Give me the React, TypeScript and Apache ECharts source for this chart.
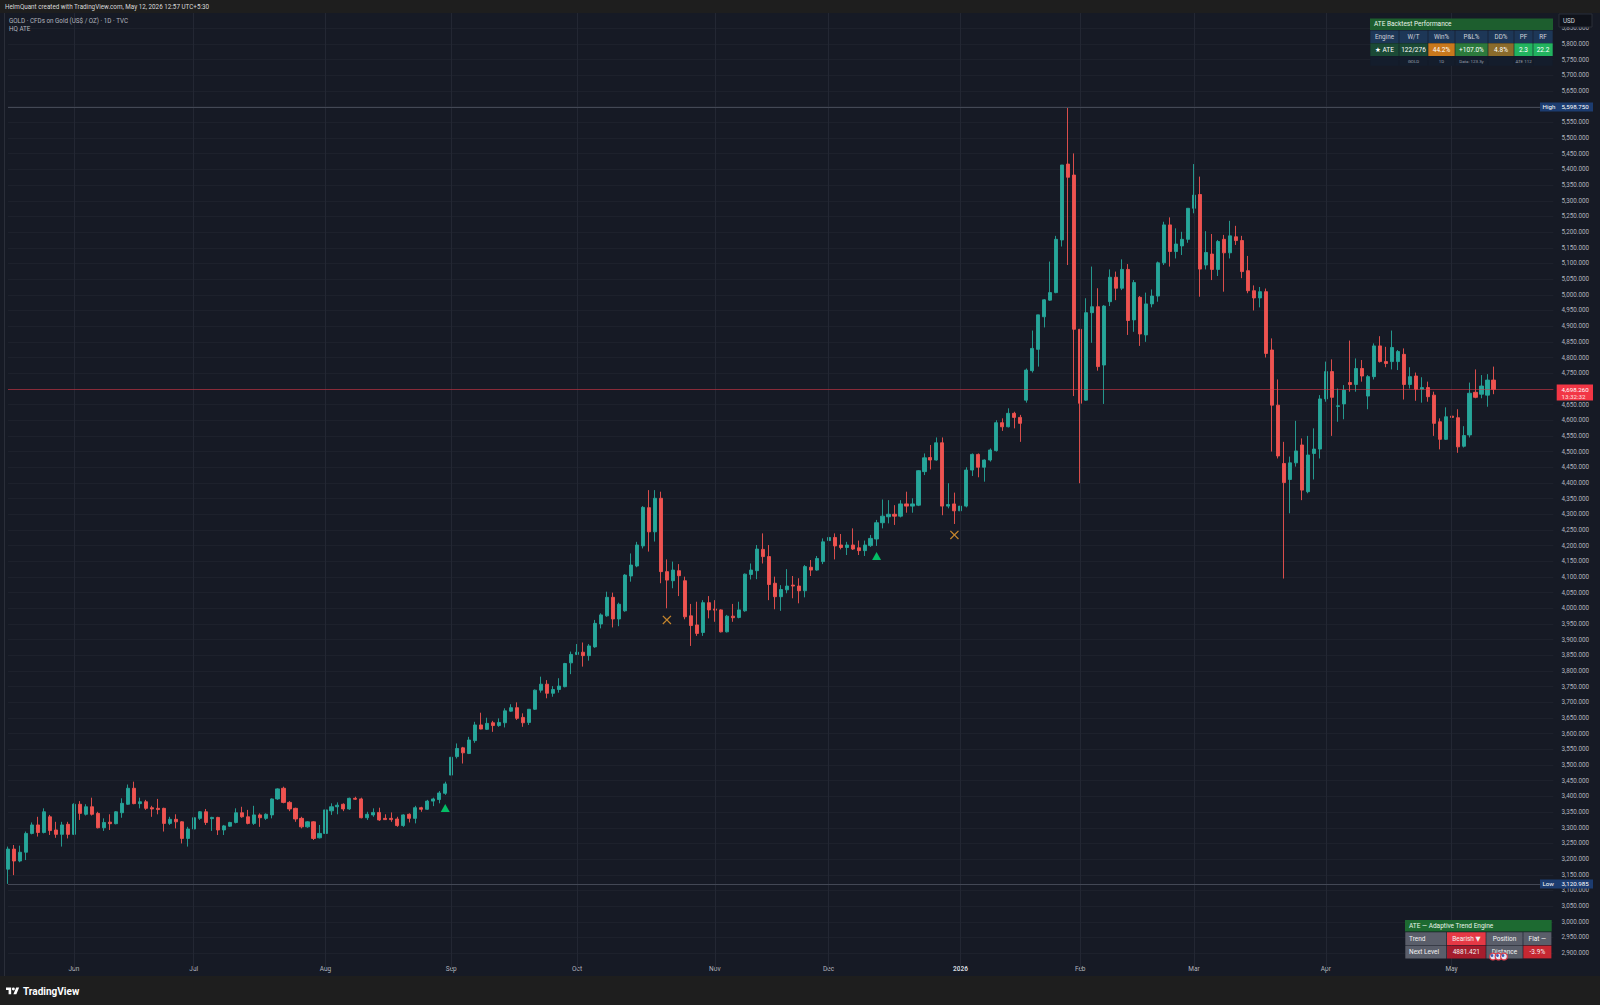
import React, { useEffect, useRef } from "react";
import * as echarts from "echarts";

const FONT = "Roboto, 'Noto Sans', 'DejaVu Sans', sans-serif";

// ---------- categories ----------
const HOLIDAYS = [
  "2025-05-26", "2025-06-19", "2025-07-04", "2025-09-01", "2025-11-27",
  "2025-12-25", "2026-01-01", "2026-01-19", "2026-02-16", "2026-04-03",
];
const FUTURE_BARS = 10;
const MONTH_ABBR = ["Jan", "Feb", "Mar", "Apr", "May", "Jun", "Jul", "Aug", "Sep", "Oct", "Nov", "Dec"];

// ---------- series values (daily OHLC, TVC:GOLD) ----------
const opens = [
  3168, 3232, 3194, 3222, 3282, 3309, 3285, 3335, 3293, 3279,
  3311, 3279, 3375, 3343, 3367, 3346, 3300, 3318, 3313, 3348,
  3375, 3426, 3377, 3383, 3364, 3362, 3362, 3314, 3327, 3319,
  3266, 3296, 3330, 3351, 3329, 3333, 3293, 3305, 3317, 3348,
  3335, 3314, 3341, 3330, 3341, 3392, 3426, 3381, 3362, 3330,
  3303, 3319, 3268, 3282, 3354, 3367, 3375, 3360, 3394, 3392,
  3332, 3341, 3349, 3330, 3330, 3328, 3307, 3343, 3330, 3364,
  3359, 3385, 3390, 3410, 3468, 3527, 3555, 3537, 3578, 3628,
  3614, 3635, 3626, 3635, 3672, 3683, 3652, 3636, 3678, 3739,
  3758, 3729, 3741, 3750, 3826, 3853, 3860, 3849, 3877, 3950,
  3976, 4035, 3966, 3992, 4103, 4135, 4199, 4321, 4244, 4351,
  4117, 4088, 4120, 4088, 3976, 3947, 3923, 4018, 3998, 3995,
  3925, 3975, 3971, 3992, 4108, 4120, 4188, 4165, 4080, 4037,
  4059, 4074, 4071, 4056, 4131, 4122, 4149, 4216, 4226, 4202,
  4194, 4202, 4193, 4184, 4200, 4221, 4273, 4292, 4300, 4294,
  4333, 4326, 4329, 4436, 4481, 4473, 4528, 4326, 4333, 4311,
  4326, 4441, 4491, 4450, 4473, 4503, 4592, 4579, 4622, 4609,
  4664, 4758, 4826, 4930, 4983, 5007, 5175, 5417, 5382, 4890,
  4664, 4943, 4962, 4776, 4978, 5056, 5021, 5081, 4920, 4992,
  4872, 4971, 4996, 5102, 5223, 5138, 5156, 5177, 5276, 5320,
  5095, 5130, 5081, 5177, 5134, 5185, 5173, 5077, 5013, 4990,
  5010, 4824, 4648, 4462, 4411, 4464, 4521, 4372, 4494, 4508,
  4668, 4755, 4644, 4652, 4720, 4714, 4765, 4677, 4739, 4837,
  4787, 4787, 4787, 4810, 4714, 4741, 4699, 4704, 4680, 4595,
  4539, 4613, 4608, 4517, 4553, 4689, 4683, 4680, 4728,
];
const closes = [
  3232, 3194, 3222, 3282, 3309, 3285, 3351, 3291, 3279, 3309,
  3279, 3375, 3346, 3367, 3343, 3300, 3317, 3313, 3351, 3378,
  3426, 3377, 3383, 3362, 3360, 3358, 3314, 3327, 3319, 3266,
  3296, 3332, 3351, 3317, 3333, 3293, 3306, 3317, 3348, 3335,
  3314, 3341, 3332, 3343, 3392, 3424, 3381, 3360, 3328, 3303,
  3319, 3266, 3282, 3357, 3367, 3372, 3360, 3394, 3391, 3332,
  3343, 3349, 3325, 3326, 3326, 3307, 3341, 3330, 3364, 3359,
  3385, 3392, 3411, 3440, 3525, 3553, 3539, 3580, 3628, 3615,
  3633, 3626, 3636, 3673, 3683, 3649, 3635, 3678, 3739, 3758,
  3729, 3741, 3752, 3824, 3853, 3860, 3849, 3880, 3952, 3979,
  4035, 3966, 4013, 4106, 4138, 4202, 4322, 4244, 4351, 4117,
  4090, 4122, 4104, 3973, 3945, 3920, 4018, 3995, 3994, 3925,
  3975, 3970, 3995, 4109, 4122, 4189, 4165, 4076, 4037, 4060,
  4071, 4071, 4056, 4133, 4122, 4159, 4212, 4226, 4199, 4194,
  4202, 4189, 4184, 4202, 4223, 4273, 4294, 4300, 4294, 4333,
  4326, 4333, 4439, 4480, 4473, 4528, 4326, 4331, 4311, 4326,
  4441, 4491, 4450, 4473, 4505, 4592, 4579, 4622, 4609, 4590,
  4760, 4829, 4936, 4984, 5007, 5177, 5414, 5375, 4890, 4654,
  4943, 4962, 4771, 4964, 5056, 5021, 5081, 4918, 5039, 4875,
  4971, 4996, 5102, 5223, 5138, 5162, 5177, 5276, 5318, 5082,
  5135, 5081, 5170, 5134, 5188, 5173, 5074, 5013, 4990, 5010,
  4813, 4648, 4486, 4401, 4464, 4502, 4377, 4489, 4508, 4668,
  4755, 4673, 4646, 4696, 4714, 4765, 4741, 4739, 4837, 4787,
  4781, 4832, 4819, 4714, 4739, 4699, 4704, 4675, 4590, 4539,
  4611, 4609, 4515, 4551, 4686, 4673, 4709, 4728, 4698.26,
];
const lows = [
  3120.985, 3149, 3190, 3197, 3279, 3272, 3282, 3277, 3268, 3240,
  3266, 3277, 3325, 3339, 3339, 3298, 3290, 3293, 3311, 3332,
  3373, 3375, 3362, 3357, 3335, 3343, 3288, 3309, 3298, 3250,
  3240, 3293, 3325, 3309, 3290, 3277, 3277, 3303, 3314, 3332,
  3311, 3309, 3303, 3325, 3330, 3389, 3378, 3353, 3319, 3298,
  3300, 3261, 3266, 3275, 3341, 3343, 3353, 3357, 3389, 3330,
  3325, 3335, 3322, 3325, 3319, 3303, 3303, 3317, 3314, 3351,
  3357, 3369, 3378, 3405, 3463, 3521, 3505, 3535, 3571, 3614,
  3612, 3606, 3622, 3620, 3670, 3644, 3622, 3628, 3676, 3731,
  3713, 3718, 3731, 3748, 3790, 3851, 3814, 3833, 3874, 3936,
  3973, 3939, 3943, 3989, 4085, 4131, 4191, 4181, 4213, 4080,
  4000, 4064, 4039, 3965, 3880, 3912, 3912, 3968, 3957, 3923,
  3923, 3957, 3968, 3989, 4092, 4093, 4143, 4026, 3997, 3992,
  4048, 4032, 4016, 4035, 4103, 4120, 4141, 4199, 4156, 4188,
  4170, 4186, 4170, 4167, 4196, 4199, 4255, 4271, 4266, 4290,
  4305, 4305, 4326, 4425, 4443, 4471, 4297, 4319, 4269, 4305,
  4322, 4422, 4418, 4404, 4468, 4500, 4566, 4577, 4574, 4531,
  4656, 4752, 4771, 4896, 4981, 5005, 5154, 5095, 4677, 4399,
  4662, 4847, 4758, 4652, 4964, 4983, 5015, 4872, 4882, 4837,
  4850, 4960, 4978, 5095, 5090, 5116, 5127, 5166, 5260, 4994,
  5081, 5047, 5060, 5010, 5116, 5159, 5053, 5005, 4950, 4960,
  4800, 4500, 4478, 4095, 4303, 4452, 4345, 4367, 4411, 4478,
  4659, 4550, 4595, 4603, 4691, 4691, 4723, 4635, 4730, 4784,
  4769, 4762, 4760, 4666, 4701, 4662, 4656, 4659, 4550, 4507,
  4537, 4558, 4496, 4513, 4545, 4670, 4670, 4643, 4683,
];
const highs = [
  3240, 3245, 3243, 3288, 3317, 3335, 3362, 3341, 3319, 3319,
  3319, 3378, 3385, 3375, 3396, 3351, 3330, 3343, 3353, 3394,
  3438, 3447, 3396, 3389, 3370, 3392, 3364, 3335, 3343, 3321,
  3303, 3335, 3353, 3360, 3335, 3335, 3309, 3319, 3362, 3367,
  3357, 3370, 3346, 3346, 3394, 3426, 3431, 3385, 3364, 3335,
  3321, 3321, 3309, 3357, 3378, 3381, 3378, 3396, 3399, 3396,
  3351, 3362, 3364, 3343, 3349, 3335, 3343, 3346, 3370, 3367,
  3389, 3396, 3417, 3447, 3532, 3569, 3558, 3590, 3638, 3667,
  3651, 3641, 3649, 3681, 3694, 3700, 3665, 3678, 3741, 3782,
  3771, 3752, 3777, 3826, 3862, 3886, 3891, 3886, 3963, 3984,
  4053, 4050, 4018, 4109, 4175, 4212, 4326, 4377, 4377, 4372,
  4156, 4149, 4141, 4101, 4014, 4021, 4026, 4039, 4026, 3997,
  3979, 4014, 4021, 4111, 4143, 4202, 4239, 4202, 4101, 4074,
  4125, 4103, 4096, 4138, 4154, 4167, 4223, 4260, 4239, 4237,
  4212, 4255, 4216, 4216, 4234, 4282, 4347, 4345, 4329, 4345,
  4372, 4351, 4441, 4494, 4521, 4545, 4545, 4399, 4369, 4399,
  4450, 4494, 4494, 4475, 4510, 4600, 4606, 4638, 4627, 4617,
  4765, 4886, 4936, 4986, 5106, 5188, 5414, 5598.75, 5451, 4890,
  4989, 5090, 5021, 4967, 5081, 5074, 5113, 5098, 5047, 4996,
  5007, 5017, 5106, 5233, 5247, 5212, 5201, 5276, 5417, 5377,
  5203, 5194, 5175, 5191, 5236, 5220, 5188, 5124, 5030, 5025,
  5020, 4861, 4730, 4531, 4484, 4598, 4542, 4550, 4574, 4680,
  4787, 4794, 4701, 4712, 4854, 4797, 4792, 4744, 4845, 4868,
  4834, 4886, 4824, 4829, 4769, 4752, 4737, 4723, 4691, 4606,
  4641, 4656, 4635, 4581, 4720, 4762, 4744, 4747, 4771,
];

// signals drawn by the "HQ ATE" indicator
const buySignals: [string, number][] = [["2025-08-29", 3363], ["2025-12-11", 4167]];
const exitSignals: [string, number][] = [["2025-10-22", 3963], ["2025-12-31", 4234]];

const HIGH_PRICE = 5598.75;
const LOW_PRICE = 3120.985;
const LAST_PRICE = 4698.26;
const COUNTDOWN = "13:32:32";

// price scale
const Y_MIN = 2850;
const Y_MAX = 5900;
const Y_STEP = 50;

// tables
const perfTitle = "ATE Backtest Performance";
const perfHeader = ["Engine", "W/T", "Win%", "P&L%", "DD%", "PF", "RF"];
const perfRow = ["★ ATE", "122/276", "44.2%", "+107.0%", "4.8%", "2.3", "22.2"];
const perfSub = ["", "GOLD", "1D", "Data: 123.3y", "", "ATE 112", ""];
const engineTitle = "ATE — Adaptive Trend Engine";
const engineRow1 = ["Trend", "Bearish ▼", "Position", "Flat —"];
const engineRow2 = ["Next Level", "4881.421", "Distance", "-3.9%"];

const HEADER_TEXT = "HelmQuant created with TradingView.com, May 12, 2026 12:57 UTC+5:30";
const SYMBOL_TEXT = "GOLD · CFDs on Gold (US$ / OZ) · 1D · TVC";
const INDICATOR_TEXT = "HQ ATE";

const TV_LOGO = "M14 22H7V11H0V4h14v18zM28 22h-8l7.5-18h8L28 22zM24 8a4 4 0 1 1-8 0a4 4 0 1 1 8 0z";
try {
  echarts.graphic.registerShape("tvlogo", echarts.graphic.extendPath(TV_LOGO, {}) as any);
} catch (e) {
  /* already registered */
}

function buildDates(n: number): string[] {
  const out: string[] = [];
  const d = new Date(Date.UTC(2025, 4, 15));
  while (out.length < n) {
    const day = d.getUTCDay();
    const iso = d.toISOString().slice(0, 10);
    if (day !== 0 && day !== 6 && !HOLIDAYS.includes(iso)) out.push(iso);
    d.setUTCDate(d.getUTCDate() + 1);
  }
  return out;
}

const UP = "#26a69a";
const DOWN = "#ef5350";
const BG = "#161a25";
const AXIS_TEXT = "#b2b5be";

function fmtPrice(v: number) {
  return v.toLocaleString("en-US", { minimumFractionDigits: 3, maximumFractionDigits: 3 });
}

function txt(x: number, y: number, text: string, fill: string, size: number, align = "left", weight: any = "normal") {
  return {
    type: "text",
    x,
    y,
    z: 102,
    silent: true,
    style: {
      text,
      fill,
      fontSize: size,
      fontFamily: FONT,
      fontWeight: weight,
      align,
      verticalAlign: "middle",
      textAlign: align,
      textVerticalAlign: "middle",
    },
  };
}

function rect(x: number, y: number, w: number, h: number, fill: string, z = 100, stroke?: string) {
  return {
    type: "rect",
    z,
    silent: true,
    shape: { x, y, width: w, height: h },
    style: stroke ? { fill, stroke, lineWidth: 1 } : { fill },
  };
}

export default function App() {
  const ref = useRef<HTMLDivElement>(null);

  useEffect(() => {
    const el = ref.current!;
    const chart = echarts.init(el, null, { renderer: "svg", width: 1600, height: 1005 });

    const n = opens.length;
    const dates = buildDates(n + FUTURE_BARS);
    const monthStart = new Set<number>();
    for (let i = 1; i < dates.length; i++) {
      if (dates[i].slice(5, 7) !== dates[i - 1].slice(5, 7)) monthStart.add(i);
    }
    const candles = opens.map((o, i) => [o, closes[i], lows[i], highs[i]]);
    const monthLines = Array.from(monthStart).map((i) => ({ xAxis: i }));

    const gridLeft = 8;
    const gridWidth = 1545.4;
    const gridTop = 12.65;
    const gridBottomY = 968.85;

    chart.setOption({
      animation: false,
      backgroundColor: BG,
      grid: {
        left: gridLeft,
        top: gridTop,
        width: gridWidth,
        height: gridBottomY - gridTop,
        containLabel: false,
      },
      xAxis: {
        type: "category",
        data: dates,
        boundaryGap: false,
        axisLine: { show: false },
        axisTick: { show: false },
        splitLine: { show: false },
        axisLabel: {
          interval: (idx: number) => monthStart.has(idx),
          formatter: (v: string) => {
            const m = Number(v.slice(5, 7)) - 1;
            return m === 0 ? "{y|" + v.slice(0, 4) + "}" : MONTH_ABBR[m];
          },
          color: AXIS_TEXT,
          fontSize: 6.5,
          fontFamily: FONT,
          margin: -3,
          rich: { y: { fontWeight: "bold", fontSize: 6.5, color: "#d1d4dc", fontFamily: FONT } },
        },
      },
      yAxis: {
        type: "value",
        position: "right",
        min: Y_MIN,
        max: Y_MAX,
        interval: Y_STEP,
        axisLine: { show: false },
        axisTick: { show: false },
        splitLine: { show: true, showMinLine: false, showMaxLine: false, lineStyle: { color: "#1d212c", width: 1 } },
        axisLabel: {
          margin: 8,
          color: AXIS_TEXT,
          fontSize: 6.3,
          fontFamily: FONT,
          formatter: (v: number) => (v <= Y_MIN || v >= Y_MAX || v === 5600 || v === 4700 ? "" : fmtPrice(v)),
        },
      },
      series: [
        {
          type: "line",
          data: [],
          z: 1,
          silent: true,
          markLine: {
            silent: true,
            symbol: ["none", "none"],
            label: { show: false },
            lineStyle: { color: "#232733", width: 1, type: "solid" },
            data: monthLines,
          },
        },
        {
          type: "candlestick",
          data: candles,
          z: 3,
          clip: false,
          barWidth: 3.6,
          itemStyle: { color: UP, color0: DOWN, borderColor: UP, borderColor0: DOWN, borderWidth: 0.9 },
          markLine: {
            silent: true,
            symbol: ["none", "none"],
            label: { show: false },
            data: [
              { yAxis: HIGH_PRICE, lineStyle: { color: "#434855", width: 1, type: "solid" } },
              { yAxis: LOW_PRICE, lineStyle: { color: "#434855", width: 1, type: "solid" } },
              { yAxis: LAST_PRICE, lineStyle: { color: "rgba(242,54,69,0.5)", width: 1, type: "solid" } },
            ],
          },
        },
        {
          type: "scatter",
          data: buySignals,
          z: 4,
          symbol: "triangle",
          symbolSize: [9, 8],
          itemStyle: { color: "#00e676" },
        },
        {
          type: "scatter",
          data: exitSignals,
          z: 4,
          symbol: "path://M0,1L1,0L5,4L9,0L10,1L6,5L10,9L9,10L5,6L1,10L0,9L4,5Z",
          symbolSize: 9,
          itemStyle: { color: "#f0a030" },
        },
      ],
    });

    const yOf = (p: number) => chart.convertToPixel({ yAxisIndex: 0 }, p) as number;
    const yHigh = yOf(HIGH_PRICE);
    const yLow = yOf(LOW_PRICE);
    const yLast = yOf(LAST_PRICE);

    const els: any[] = [];
    // header & footer bands
    els.push(rect(0, 0, 1600, 13, "#1e1e1e"));
    els.push(txt(5, 7, HEADER_TEXT, "#d9d9d9", 6.3));
    els.push(rect(0, 976, 1600, 29, "#1e1e1e"));
    els.push({
      type: "tvlogo",
      x: 6,
      y: 986,
      scaleX: 0.37,
      scaleY: 0.37,
      z: 102,
      silent: true,
      style: { fill: "#ffffff" },
    });
    els.push(txt(23, 991, "TradingView", "#ffffff", 10, "left", "bold"));
    // pane left border
    els.push({ type: "line", z: 101, silent: true, shape: { x1: 4.5, y1: 13, x2: 4.5, y2: 976 }, style: { stroke: "#2a2e39", lineWidth: 1 } });

    // legend
    els.push(txt(9, 20.5, SYMBOL_TEXT, "#b2b5be", 6.3));
    els.push(txt(9, 28.5, INDICATOR_TEXT, "#b2b5be", 6.3));

    // USD box
    els.push(rect(1559, 14, 33, 13, "#0f121a", 100, "#2a2e39"));
    els.push(txt(1563, 20.5, "USD", "#d1d4dc", 6.3));

    // performance table
    const colX = [1370, 1399, 1428, 1455, 1488, 1514, 1533, 1553];
    els.push(rect(1370, 18.5, 183, 11.5, "#1d5e2e"));
    els.push(txt(1374, 24.3, perfTitle, "#e8f5e9", 6.5));
    const dataBg = ["#1b4a36", "#1b4a36", "#c9781c", "#2c7a3c", "#8a6b2b", "#22b35f", "#22b35f"];
    for (let c = 0; c < 7; c++) {
      const x = colX[c];
      const w = colX[c + 1] - colX[c];
      const cx = x + w / 2;
      els.push(rect(x + 0.3, 30.5, w - 0.6, 12.5, "#1d3757"));
      els.push(txt(cx, 36.8, perfHeader[c], "#d1d4dc", 6.3, "center"));
      els.push(rect(x + 0.3, 43.3, w - 0.6, 12.7, dataBg[c]));
      els.push(txt(cx, 49.6, perfRow[c], "#ffffff", 6.5, "center"));
      els.push(rect(x + 0.3, 56.3, w - 0.6, 9.5, "#141d2c"));
      if (perfSub[c]) els.push(txt(cx, 61.2, perfSub[c], "#9aa0ad", 4.4, "center"));
    }

    // adaptive trend engine table
    const eX = [1405, 1446.7, 1486, 1523, 1551.7];
    els.push(rect(1405, 920, 146.7, 11.5, "#1d6a31"));
    els.push(txt(1409, 925.8, engineTitle, "#e8f5e9", 6.5));
    const row1Bg = ["#5a5e6a", "#e53945", "#5a5e6a", "#5a5e6a"];
    const row2Bg = ["#5a5e6a", "#a51d2d", "#5a5e6a", "#c62832"];
    for (let c = 0; c < 4; c++) {
      const x = eX[c];
      const w = eX[c + 1] - eX[c];
      els.push(rect(x + 0.3, 932.2, w - 0.6, 12.8, row1Bg[c]));
      els.push(rect(x + 0.3, 945.6, w - 0.6, 12.8, row2Bg[c]));
      const align = c === 0 ? "left" : "center";
      const tx = c === 0 ? x + 4 : x + w / 2;
      els.push(txt(tx, 938.6, engineRow1[c], "#f2f2f2", 6.5, align));
      els.push(txt(tx, 952, engineRow2[c], "#f2f2f2", 6.5, align));
    }
    // event flags
    for (let k = 0; k < 3; k++) {
      els.push({
        type: "circle",
        z: 103,
        silent: true,
        shape: { cx: 1493 + k * 5.5, cy: 956.5, r: 3.4 },
        style: { fill: "#e6e8f2", stroke: "#d83a4a", lineWidth: 1.2 },
      });
      els.push({
        type: "circle",
        z: 104,
        silent: true,
        shape: { cx: 1492 + k * 5.5, cy: 955.5, r: 1.4 },
        style: { fill: "#3b5bb5" },
      });
    }

    // price scale labels
    els.push(rect(1540, yHigh - 4.5, 53, 9, "#1c3c70"));
    els.push(txt(1542.5, yHigh, "High", "#ffffff", 6.2));
    els.push(txt(1561.5, yHigh, fmtPrice(HIGH_PRICE), "#ffffff", 6.2));
    els.push(rect(1540, yLow - 4.5, 53, 9, "#1c3c70"));
    els.push(txt(1542.5, yLow, "Low", "#ffffff", 6.2));
    els.push(txt(1561.5, yLow, fmtPrice(LOW_PRICE), "#ffffff", 6.2));
    els.push(rect(1556.7, yLast - 5, 36.3, 16, "#f23645"));
    els.push(txt(1561.5, yLast + 0.7, fmtPrice(LAST_PRICE), "#ffffff", 6.2));
    els.push(txt(1561.5, yLast + 7.3, COUNTDOWN, "#ffe0e0", 6.2));

    chart.setOption({ graphic: { elements: els } });

    return () => {
      chart.dispose();
    };
  }, []);

  return (
    <div
      ref={ref}
      style={{ position: "fixed", left: 0, top: 0, width: 1600, height: 1005, background: BG }}
    />
  );
}
